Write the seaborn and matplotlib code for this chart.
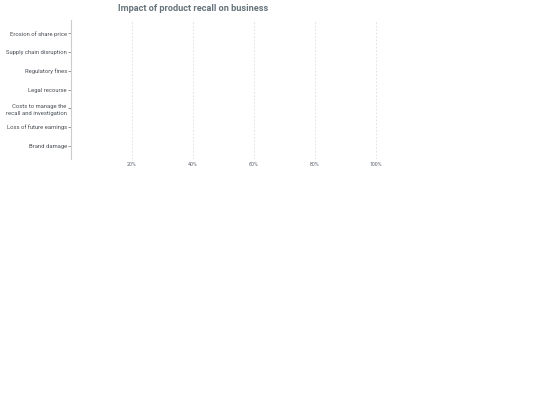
import numpy as np
import pandas as pd
import matplotlib
matplotlib.use('Agg')
import matplotlib.pyplot as plt
import seaborn as sns
from matplotlib.ticker import FuncFormatter

# Categories top to bottom, as in the reference
categories = [
    'Erosion of share price',
    'Supply chain disruption',
    'Regulatory fines',
    'Legal recourse',
    'Costs to manage the\nrecall and investigation',
    'Loss of future earnings',
    'Brand damage',
]
# No bars are visible in the reference, so every share is empty
share = [np.nan] * len(categories)
x_ticks = [20, 40, 60, 80, 100]

sns.set_style('white')
plt.rcParams['font.family'] = ['Roboto', 'DejaVu Sans']

df = pd.DataFrame({'Impact': categories, 'Share': share})

fig = plt.figure(figsize=(5.4, 4.05), dpi=100)
ax = fig.add_axes([0.1315, 0.6074, 0.576, 0.3432])

sns.barplot(data=df, x='Share', y='Impact', order=categories, color='#4a90c0', ax=ax)

ax.set_xlim(0, 102)
ax.set_ylim(6.72, -0.72)
ax.set_xticks(x_ticks)
ax.xaxis.set_major_formatter(FuncFormatter(lambda v, p: f'{v:.0f}%'))
ax.grid(axis='x', color='#d8d8d8', linestyle=(0, (2.5, 2.5)), linewidth=0.5)
ax.set_axisbelow(True)

for side in ['top', 'right', 'bottom']:
    ax.spines[side].set_visible(False)
ax.spines['left'].set_color('#cccccc')
ax.spines['left'].set_linewidth(0.8)

ax.tick_params(axis='y', length=2, width=0.6, color='#888888', pad=1,
               labelsize=4.2, labelcolor='#4a4f55', left=True)
ax.tick_params(axis='x', length=0, pad=2, labelsize=3.8, labelcolor='#5a6068')
ax.set_xlabel('')
ax.set_ylabel('')
for lbl in ax.get_yticklabels():
    lbl.set_linespacing(1.5)

fig.text(193 / 540, 1 - 8.5 / 405, 'Impact of product recall on business',
         ha='center', va='center', fontsize=6.6, fontweight='bold', color='#66737a')

fig.savefig('out.png', dpi=100)
